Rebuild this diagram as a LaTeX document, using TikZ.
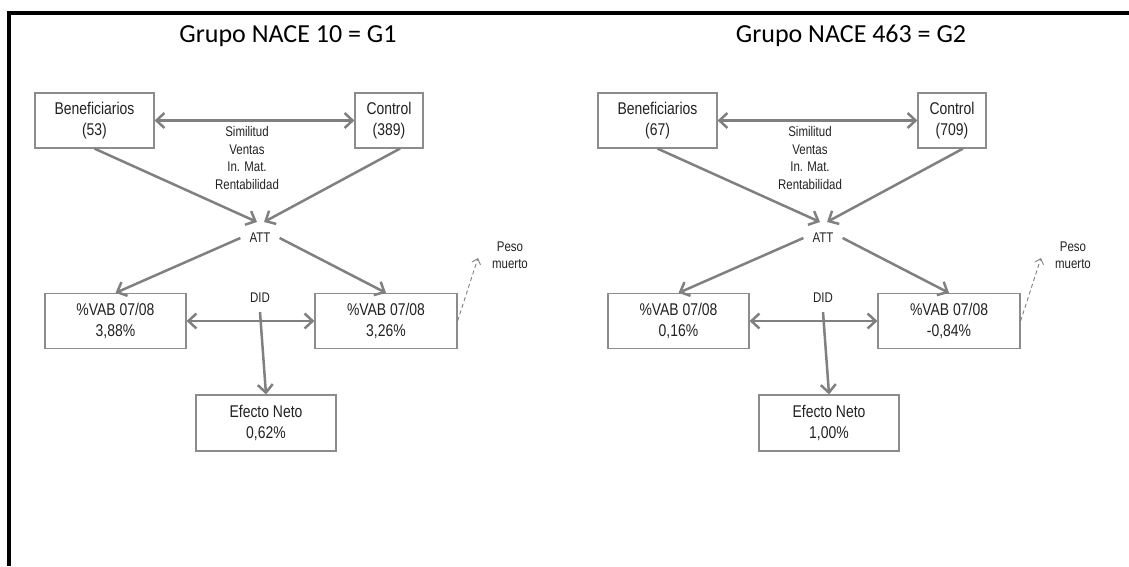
\documentclass[tikz,border=0pt]{standalone}
\usepackage{fontspec}
\setmainfont{Carlito}
\newfontfamily\narrowfont{Liberation Sans}[FakeStretch=0.82]
\usetikzlibrary{arrows.meta,positioning,calc}
\definecolor{lineGray}{RGB}{128,128,128}
\definecolor{boxGray}{RGB}{140,140,140}
\definecolor{textDark}{RGB}{34,34,34}
\tikzset{
  nbox/.style={draw=boxGray,line width=1.2pt,fill=white,align=center,text=textDark,
    font=\narrowfont\fontsize{17}{21}\selectfont,inner sep=0pt,minimum height=55pt},
  ntag/.style={align=center,text=textDark,font=\narrowfont\fontsize{14}{17.5}\selectfont,inner sep=2pt},
  nhead/.style={anchor=base,font=\fontsize{26}{30}\selectfont},
  nlink/.style={draw=lineGray,line width=2.5pt,-{Straight Barb[length=8pt,width=15pt]}},
  ndlink/.style={draw=lineGray,line width=2.5pt,{Straight Barb[length=8pt,width=15pt]}-{Straight Barb[length=8pt,width=15pt]}},
  nghost/.style={draw=lineGray,line width=0.9pt,dash pattern=on 4pt off 3pt,-{Straight Barb[length=5pt,width=9pt]}}
}
\begin{document}
\begin{tikzpicture}[x=1pt,y=-1pt]
\useasboundingbox (0,0) rectangle (1129,566);
% frame
\draw[line width=4pt] (9,566) -- (9,13) -- (1129,13);

% --- grupo 1 ---
\node[nhead] (g1head) at (288,42) {Grupo NACE 10 = G1};
\node[nbox,minimum width=119pt] (g1ben) at (94.5,120.5) {Beneficiarios\\(53)};
\node[nbox,minimum width=68pt] (g1ctl) at (389,120.5) {Control\\(389)};
\node[ntag] (g1sim) at (247,158) {Similitud\\Ventas\\In. Mat.\\Rentabilidad};
\node[ntag,inner sep=9pt] (g1att) at (260,238) {ATT};
\node[nbox,minimum width=141pt] (g1vab1) at (115.5,321) {\%VAB 07/08\\3,88\%};
\node[nbox,minimum width=142pt] (g1vab2) at (386,321) {\%VAB 07/08\\3,26\%};
\node[ntag,inner sep=9pt] (g1did) at (260,298) {DID};
\node[nbox,minimum width=140pt,minimum height=56pt] (g1neto) at (266,423) {Efecto Neto\\0,62\%};
\node[ntag] (g1peso) at (510,255) {Peso\\muerto};
\draw[ndlink] (g1ben) -- (g1ctl);
\draw[nlink] (g1ben.south) -- ([xshift=-3pt,yshift=2pt]g1att.north);
\draw[nlink] ([xshift=11pt]g1ctl.south) -- ([xshift=4pt,yshift=2pt]g1att.north);
\draw[nlink] (g1att.west) -- (g1vab1.north);
\draw[nlink] (g1att.east) -- (g1vab2.north);
\draw[ndlink] (g1vab1) -- (g1vab2);
\draw[nlink] (g1did.south) -- (g1neto.north);
\draw[nghost] (g1vab2.east) -- ([shift={(-12pt,-3pt)}]g1peso.west);

% --- grupo 2 ---
\node[nhead] (g2head) at (851,42) {Grupo NACE 463 = G2};
\node[nbox,minimum width=119pt] (g2ben) at (657.5,120.5) {Beneficiarios\\(67)};
\node[nbox,minimum width=68pt] (g2ctl) at (952,120.5) {Control\\(709)};
\node[ntag] (g2sim) at (810,158) {Similitud\\Ventas\\In. Mat.\\Rentabilidad};
\node[ntag,inner sep=9pt] (g2att) at (823,238) {ATT};
\node[nbox,minimum width=141pt] (g2vab1) at (678.5,321) {\%VAB 07/08\\0,16\%};
\node[nbox,minimum width=142pt] (g2vab2) at (949,321) {\%VAB 07/08\\-0,84\%};
\node[ntag,inner sep=9pt] (g2did) at (823,298) {DID};
\node[nbox,minimum width=140pt,minimum height=56pt] (g2neto) at (829,423) {Efecto Neto\\1,00\%};
\node[ntag] (g2peso) at (1073,255) {Peso\\muerto};
\draw[ndlink] (g2ben) -- (g2ctl);
\draw[nlink] (g2ben.south) -- ([xshift=-3pt,yshift=2pt]g2att.north);
\draw[nlink] ([xshift=11pt]g2ctl.south) -- ([xshift=4pt,yshift=2pt]g2att.north);
\draw[nlink] (g2att.west) -- (g2vab1.north);
\draw[nlink] (g2att.east) -- (g2vab2.north);
\draw[ndlink] (g2vab1) -- (g2vab2);
\draw[nlink] (g2did.south) -- (g2neto.north);
\draw[nghost] (g2vab2.east) -- ([shift={(-12pt,-3pt)}]g2peso.west);
\end{tikzpicture}
\end{document}
